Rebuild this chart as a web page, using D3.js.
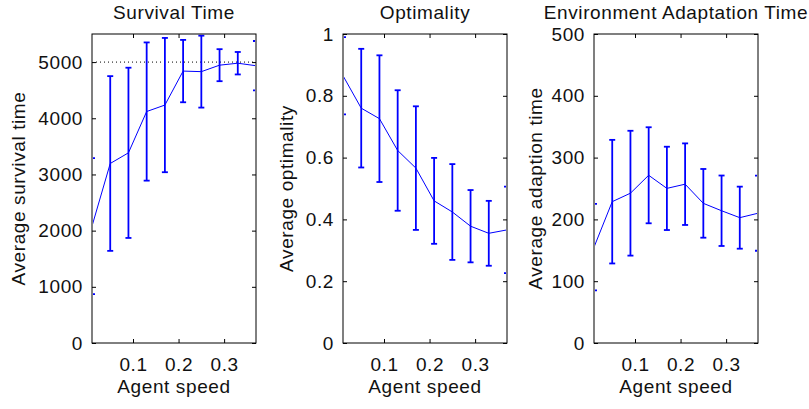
<!DOCTYPE html>
<html>
<head>
<meta charset="utf-8">
<script src="https://cdn.jsdelivr.net/npm/d3@7"></script>
<style>
  html, body { margin: 0; padding: 0; background: #fff; }
  svg { display: block; }
  text { font-family: "Liberation Sans", Arial, sans-serif; fill: #111; }
</style>
</head>
<body>
<svg id="chart" width="809" height="409"></svg>
<script>
// ---- data ----
const speeds = [0.01, 0.05, 0.09, 0.13, 0.17, 0.21, 0.25, 0.29, 0.33, 0.37];
const speedTicks = [0.1, 0.2, 0.3];

const survivalMean = [2080, 3195, 3385, 4120, 4235, 4840, 4830, 4945, 4980, 4935];
const survivalErr  = [1210, 1555, 1515, 1230, 1195, 555, 640, 285, 200, 440];
const survivalTicks = [0, 1000, 2000, 3000, 4000, 5000];
const survivalRef = 5000;

const optimalityMean = [0.865, 0.760, 0.726, 0.623, 0.566, 0.460, 0.424, 0.378, 0.355, 0.366];
const optimalityErr  = [0.125, 0.192, 0.205, 0.195, 0.200, 0.139, 0.155, 0.117, 0.105, 0.140];
const optimalityTicks = [0, 0.2, 0.4, 0.6, 0.8, 1];

const adaptMean = [155, 228.7, 242.4, 271.4, 250.2, 257, 226, 214, 202.8, 210];
const adaptErr  = [70, 100, 101, 77.7, 67.4, 66, 55.6, 57, 50.2, 60.7];
const adaptTicks = [0, 100, 200, 300, 400, 500];

const titles = ["Survival Time", "Optimality", "Environment Adaptation Time"];
const yLabels = ["Average survival time", "Average optimality", "Average adaption time"];
const xLabel = "Agent speed";

// ---- layout ----
const svg = d3.select("#chart");
const FONT = 19, LS = 0.6;
const plotTop = 34, plotBottom = 343, pw = 164;
const panels = [
  { left: 92,  mean: survivalMean,   err: survivalErr,   ticks: survivalTicks,   ymax: 5500, title: titles[0], ylab: yLabels[0], ylabX: 25,  ref: survivalRef },
  { left: 343, mean: optimalityMean, err: optimalityErr, ticks: optimalityTicks, ymax: 1,    title: titles[1], ylab: yLabels[1], ylabX: 293 },
  { left: 594, mean: adaptMean,      err: adaptErr,      ticks: adaptTicks,      ymax: 500,  title: titles[2], ylab: yLabels[2], ylabX: 542 }
];

const blue = "#0000ff";

panels.forEach((p, i) => {
  const x = d3.scaleLinear().domain([0.01, 0.37]).range([p.left, p.left + pw]);
  const y = d3.scaleLinear().domain([0, p.ymax]).range([plotBottom, plotTop]);
  const g = svg.append("g");

  const clipId = "clip" + i;
  svg.append("clipPath").attr("id", clipId)
    .append("rect").attr("x", p.left + 1).attr("y", plotTop).attr("width", pw - 2).attr("height", plotBottom - plotTop);

  const plot = g.append("g").attr("clip-path", `url(#${clipId})`);

  if (p.ref !== undefined) {
    plot.append("line")
      .attr("x1", p.left).attr("x2", p.left + pw)
      .attr("y1", y(p.ref)).attr("y2", y(p.ref))
      .attr("stroke", "#000").attr("stroke-width", 1)
      .attr("stroke-dasharray", "1,3");
  }

  const pts = speeds.map((s, k) => ({ s, m: p.mean[k], e: p.err[k] }));

  // error bars
  const eb = plot.selectAll("g.eb").data(pts).enter().append("g");
  eb.append("line")
    .attr("x1", d => x(d.s)).attr("x2", d => x(d.s))
    .attr("y1", d => y(d.m - d.e)).attr("y2", d => y(d.m + d.e))
    .attr("stroke", blue).attr("stroke-width", 1.8);
  [1, -1].forEach(sg => {
    eb.append("line")
      .attr("x1", d => x(d.s) - 3).attr("x2", d => x(d.s) + 3)
      .attr("y1", d => y(d.m + sg * d.e)).attr("y2", d => y(d.m + sg * d.e))
      .attr("stroke", blue).attr("stroke-width", 1.8);
  });

  // mean line
  plot.append("path").datum(pts)
    .attr("fill", "none").attr("stroke", blue).attr("stroke-width", 1)
    .attr("d", d3.line().x(d => x(d.s)).y(d => y(d.m)));

  // axes
  const fmt = v => String(v);
  const ax = (gen, tr) => {
    const a = g.append("g").attr("transform", tr).call(gen);
    a.select(".domain").remove();
    a.selectAll(".tick line").attr("stroke", "#000");
    a.selectAll("text").style("font-size", FONT + "px").style("letter-spacing", LS + "px")
      .attr("fill", "#111").attr("font-family", null);
    return a;
  };
  ax(d3.axisLeft(y).tickValues(p.ticks).tickFormat(fmt).tickSize(-4).tickPadding(9), `translate(${p.left},0)`);
  ax(d3.axisRight(y).tickValues(p.ticks).tickFormat("").tickSize(-4), `translate(${p.left + pw},0)`);
  ax(d3.axisBottom(x).tickValues(speedTicks).tickFormat(fmt).tickSize(-4).tickPadding(15), `translate(0,${plotBottom})`);
  ax(d3.axisTop(x).tickValues(speedTicks).tickFormat("").tickSize(-4), `translate(0,${plotTop})`);

  // frame
  g.append("rect").attr("x", p.left).attr("y", plotTop).attr("width", pw).attr("height", plotBottom - plotTop)
    .attr("fill", "none").attr("stroke", "#000").attr("stroke-width", 1);

  // labels
  const cx = p.left + pw / 2;
  g.append("text").attr("x", cx).attr("y", 19).attr("text-anchor", "middle")
    .style("font-size", FONT + "px").style("letter-spacing", LS + "px").text(p.title);
  g.append("text").attr("x", cx).attr("y", 393).attr("text-anchor", "middle")
    .style("font-size", FONT + "px").style("letter-spacing", LS + "px").text(xLabel);
  g.append("text").attr("transform", `translate(${p.ylabX},${(plotTop + plotBottom) / 2}) rotate(-90)`)
    .attr("text-anchor", "middle")
    .style("font-size", FONT + "px").style("letter-spacing", LS + "px").text(p.ylab);
});
</script>
</body>
</html>
